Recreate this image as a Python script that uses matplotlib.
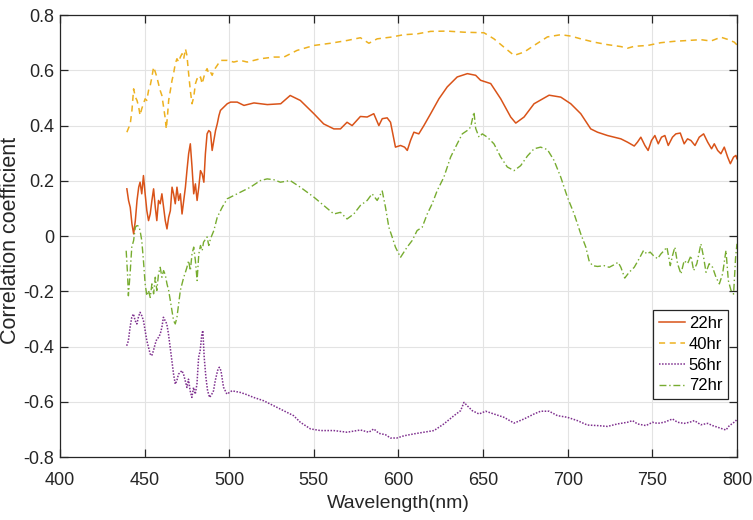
import matplotlib
matplotlib.use("Agg")
import matplotlib.pyplot as plt

plt.rcParams['font.family'] = ['Liberation Sans', 'DejaVu Sans']

# ---------------- data ----------------
wl_22 = [439.5, 440.5, 441.5, 442.5, 443.5, 444.5, 445.5, 446.5, 447.3, 448.3, 449.3, 450.3,
         451.3, 452.3, 453.3, 454.3, 455.3, 456.3, 457.2, 458.2, 459.2, 460.2, 461.2, 462.2,
         463.2, 464.2, 465.2, 466.2, 467.1, 468.1, 469.1, 470.1, 471.1, 472.1, 473.1, 474.1,
         475.0, 476.0, 477.0, 478.0, 479.0, 480.0, 481.0, 482.0, 483.0, 484.0, 485.0, 485.9,
         486.9, 487.9, 488.9, 489.9, 490.9, 491.9, 492.9, 493.9, 494.8, 496.8, 498.8, 500.8,
         504.7, 508.7, 514.6, 522.5, 530.4, 536, 542, 550, 555.8, 561.8, 565.7, 569.6,
         572.6, 577.5, 581.5, 585.4, 588.4, 590.4, 593.3, 595.3, 598.2, 601.2, 603.6, 605.2,
         607.1, 609.1, 612, 615, 619, 623.9, 628.8, 634.7, 640.7, 645.6, 648.5, 654.5,
         660.4, 666.3, 669.3, 674.2, 680.1, 689, 695.9, 701.8, 707.7, 713.6, 717.6, 723.5,
         727.4, 731.4, 735.3, 739.3, 741.2, 743.2, 745.6, 747.5, 749.5, 751.5, 753.5, 755.4,
         757.4, 759.4, 761.9, 763.9, 766.5, 768.8, 770.8, 772.8, 775.2, 777.7, 780.3, 782.7,
         785, 786.6, 788.6, 790.5, 792.5, 794.5, 796.1, 798, 799.4, 800]
val_22 = [0.171, 0.129, 0.104, 0.044, 0.008, 0.056, 0.129, 0.177, 0.195, 0.153, 0.219, 0.153,
          0.092, 0.056, 0.080, 0.129, 0.171, 0.104, 0.056, 0.129, 0.117, 0.153, 0.104, 0.056,
          0.026, 0.068, 0.092, 0.177, 0.153, 0.117, 0.177, 0.129, 0.153, 0.080, 0.129, 0.177,
          0.237, 0.298, 0.334, 0.250, 0.153, 0.189, 0.129, 0.177, 0.237, 0.225, 0.195, 0.298,
          0.370, 0.382, 0.376, 0.310, 0.346, 0.382, 0.406, 0.436, 0.455, 0.467, 0.479, 0.485,
          0.485, 0.473, 0.482, 0.476, 0.479, 0.509, 0.491, 0.443, 0.406, 0.388, 0.388, 0.412,
          0.400, 0.433, 0.431, 0.443, 0.400, 0.425, 0.428, 0.412, 0.322, 0.328, 0.322, 0.310,
          0.346, 0.376, 0.370, 0.400, 0.443, 0.497, 0.540, 0.576, 0.588, 0.582, 0.564, 0.552,
          0.497, 0.431, 0.409, 0.431, 0.479, 0.510, 0.503, 0.479, 0.443, 0.388, 0.376, 0.364,
          0.358, 0.352, 0.340, 0.326, 0.340, 0.358, 0.328, 0.310, 0.346, 0.364, 0.334, 0.358,
          0.364, 0.328, 0.358, 0.370, 0.373, 0.334, 0.352, 0.346, 0.328, 0.358, 0.370, 0.340,
          0.316, 0.334, 0.310, 0.298, 0.322, 0.286, 0.262, 0.286, 0.292, 0.280]

wl_40 = [439.5, 441.5, 442.5, 443.5, 444.5, 445.5, 446.5, 447.3, 448.3, 449.3, 450.3, 451.3,
         452.3, 453.3, 454.3, 455.3, 456.3, 457.2, 458.2, 459.2, 460.2, 461.2, 462.2, 462.8,
         463.6, 464.2, 465.2, 466.2, 467.1, 468.1, 469.1, 470.1, 471.1, 472.1, 473.1, 474.1,
         475.0, 476.0, 477.0, 478.0, 479.0, 480.0, 481.0, 482.0, 483.0, 484.0, 485.0, 485.9,
         486.9, 487.9, 488.9, 489.9, 490.9, 492.9, 494.8, 498.8, 502.7, 506.6, 510.6, 518.5,
         526.3, 532.3, 540, 550, 559.8, 569.6, 577.5, 582.5, 587.4, 595.3, 603.2, 611.1,
         619, 628.8, 638.7, 650.5, 656.4, 662.3, 668.3, 674.2, 680.1, 688, 695.9, 701.8,
         707.7, 715.6, 723.5, 731.4, 735.3, 739.3, 747.2, 755, 762.9, 770.8, 778.7, 784.6,
         790.5, 794.5, 798.4, 800]
val_40 = [0.376, 0.406, 0.455, 0.533, 0.503, 0.491, 0.467, 0.437, 0.461, 0.479, 0.497, 0.491,
          0.527, 0.545, 0.576, 0.612, 0.594, 0.576, 0.551, 0.527, 0.509, 0.467, 0.425, 0.388,
          0.443, 0.491, 0.527, 0.564, 0.588, 0.624, 0.642, 0.630, 0.648, 0.660, 0.642, 0.678,
          0.654, 0.588, 0.527, 0.479, 0.503, 0.551, 0.570, 0.564, 0.576, 0.551, 0.576, 0.594,
          0.606, 0.588, 0.594, 0.582, 0.600, 0.618, 0.636, 0.636, 0.630, 0.636, 0.630, 0.642,
          0.648, 0.648, 0.672, 0.690, 0.698, 0.708, 0.718, 0.698, 0.714, 0.720, 0.729, 0.732,
          0.741, 0.742, 0.738, 0.736, 0.714, 0.684, 0.654, 0.666, 0.690, 0.721, 0.729, 0.724,
          0.714, 0.702, 0.693, 0.686, 0.680, 0.687, 0.690, 0.700, 0.705, 0.708, 0.711, 0.706,
          0.720, 0.712, 0.702, 0.692]

wl_56 = [439.4, 440.4, 441.4, 442.4, 443.4, 444.4, 445.4, 446.3, 447.3, 448.3, 449.3, 450.3,
         451.3, 452.3, 453.3, 454.2, 455.2, 456.2, 457.2, 458.2, 459.2, 460.2, 461.1, 462.1,
         463.1, 464.1, 465.1, 466.1, 467.1, 468.1, 469.0, 470.0, 471.0, 472.0, 473.0, 474.0,
         475.0, 475.9, 476.9, 477.9, 478.9, 479.9, 480.9, 481.9, 482.8, 483.8, 484.4, 485.2,
         486.2, 487.2, 488.4, 489.7, 490.7, 491.7, 493.1, 494.1, 495.1, 496.6, 498.6, 501.6,
         506.5, 509.5, 514.4, 520.3, 526.2, 532.1, 538, 542, 548, 553.9, 561.8, 569.6,
         577.5, 582.5, 585.4, 588.4, 592.3, 595.3, 599, 603.2, 609.1, 615, 621, 626.8,
         632.8, 636.7, 638.7, 640.6, 643.6, 647.6, 651.5, 656.4, 662.3, 668.3, 674.2, 680.1,
         684, 689, 693.9, 699.8, 705.7, 711.6, 717.6, 723.5, 729.4, 735.3, 738.3, 741.2,
         746.2, 750.1, 753.1, 757, 761.9, 764.9, 768.8, 772, 774.8, 778.7, 782.7, 785.6,
         788.6, 791.5, 793.5, 795.5, 797.5, 799.4, 800]
val_56 = [-0.397, -0.379, -0.330, -0.294, -0.282, -0.306, -0.318, -0.294, -0.276, -0.288, -0.306, -0.342,
          -0.379, -0.403, -0.427, -0.433, -0.415, -0.391, -0.373, -0.367, -0.355, -0.330, -0.294, -0.306,
          -0.318, -0.355, -0.403, -0.451, -0.500, -0.536, -0.524, -0.500, -0.494, -0.487, -0.500, -0.524,
          -0.548, -0.518, -0.560, -0.584, -0.548, -0.572, -0.536, -0.439, -0.415, -0.355, -0.342, -0.439,
          -0.511, -0.560, -0.584, -0.572, -0.560, -0.524, -0.487, -0.475, -0.487, -0.547, -0.572, -0.560,
          -0.566, -0.572, -0.584, -0.596, -0.614, -0.632, -0.650, -0.674, -0.698, -0.704, -0.704, -0.710,
          -0.702, -0.710, -0.698, -0.714, -0.719, -0.731, -0.731, -0.723, -0.716, -0.710, -0.704, -0.680,
          -0.650, -0.632, -0.602, -0.614, -0.632, -0.644, -0.634, -0.644, -0.656, -0.677, -0.662, -0.644,
          -0.634, -0.634, -0.650, -0.656, -0.668, -0.684, -0.686, -0.689, -0.680, -0.674, -0.668, -0.680,
          -0.686, -0.674, -0.678, -0.674, -0.662, -0.674, -0.678, -0.674, -0.668, -0.683, -0.678, -0.686,
          -0.692, -0.698, -0.702, -0.686, -0.678, -0.668, -0.662]

wl_72 = [439.1, 439.9, 440.4, 441.4, 442.4, 443.5, 444.5, 445.5, 446.5, 447.3, 448.3, 449.3,
         450.3, 451.3, 452.3, 453.3, 454.3, 455.3, 456.3, 457.2, 458.2, 459.2, 460.2, 461.2,
         462.2, 463.2, 464.2, 465.2, 466.2, 467.1, 468.1, 469.1, 470.1, 471.1, 472.1, 473.1,
         474.1, 475.0, 476.0, 477.0, 478.0, 479.0, 480.0, 481.0, 482.0, 483.0, 484.0, 484.8,
         486.9, 487.9, 488.9, 490.9, 492.9, 495.8, 498.8, 502.7, 506.6, 512.5, 518.4, 522.4,
         526.3, 530.2, 536, 542, 550, 555.8, 561.8, 565.7, 569.6, 573.6, 577.5, 581.5,
         584.4, 587.4, 590.4, 592.3, 594.3, 596.3, 598.2, 601.2, 603.2, 605.1, 608.1, 611,
         614, 617, 619.9, 622.9, 626.8, 630.8, 634.7, 637.7, 640.6, 642.6, 644.6, 645.6,
         647.6, 649.5, 652.5, 656.4, 660.4, 664.3, 668.3, 672.2, 676.2, 680.1, 684, 688,
         691.9, 695.9, 699.8, 703.8, 707.7, 710.7, 712.6, 714.6, 717.6, 721.5, 724.5, 727,
         729.8, 731.4, 733.7, 736.3, 739.3, 742.2, 744.8, 746.8, 748.7, 750.7, 753.1, 755,
         757, 758.6, 760.6, 761.9, 763.3, 764.9, 766.9, 768.8, 770.8, 772.8, 774.4, 776.3,
         778.7, 780.3, 781.7, 783.6, 785.6, 787.6, 789.6, 791.5, 793.5, 794.9, 796.5, 798,
         799.2, 800]
val_72 = [-0.053, -0.137, -0.216, -0.137, -0.040, -0.016, 0.032, 0.038, 0.036, 0.020, -0.016, -0.089,
          -0.173, -0.216, -0.197, -0.222, -0.173, -0.209, -0.149, -0.197, -0.137, -0.113, -0.149, -0.125,
          -0.140, -0.173, -0.197, -0.234, -0.270, -0.306, -0.318, -0.294, -0.246, -0.197, -0.173, -0.149,
          -0.131, -0.113, -0.089, -0.125, -0.065, -0.040, -0.089, -0.161, -0.065, -0.034, -0.053, -0.022,
          -0.003, -0.034, -0.010, 0.020, 0.068, 0.104, 0.135, 0.147, 0.159, 0.177, 0.201, 0.207,
          0.204, 0.195, 0.201, 0.177, 0.141, 0.111, 0.080, 0.086, 0.062, 0.080, 0.111, 0.129,
          0.153, 0.129, 0.163, 0.105, 0.032, -0.004, -0.040, -0.077, -0.058, -0.040, -0.016, 0.020,
          0.032, 0.080, 0.117, 0.165, 0.213, 0.286, 0.334, 0.370, 0.382, 0.394, 0.449, 0.390,
          0.358, 0.370, 0.358, 0.334, 0.286, 0.250, 0.237, 0.255, 0.290, 0.316, 0.322, 0.313,
          0.274, 0.213, 0.141, 0.080, 0.008, -0.040, -0.089, -0.107, -0.110, -0.107, -0.113, -0.105,
          -0.095, -0.113, -0.152, -0.131, -0.113, -0.082, -0.052, -0.065, -0.058, -0.071, -0.082, -0.065,
          -0.052, -0.040, -0.107, -0.071, -0.040, -0.100, -0.137, -0.089, -0.100, -0.071, -0.125, -0.100,
          -0.028, -0.077, -0.131, -0.100, -0.113, -0.149, -0.173, -0.137, -0.052, -0.161, -0.197, -0.210,
          -0.077, -0.028]

x_ticks = [400, 450, 500, 550, 600, 650, 700, 750, 800]
y_ticks = [-0.8, -0.6, -0.4, -0.2, 0, 0.2, 0.4, 0.6, 0.8]
y_tick_labels = ['-0.8', '-0.6', '-0.4', '-0.2', '0', '0.2', '0.4', '0.6', '0.8']
series_labels = ['22hr', '40hr', '56hr', '72hr']

# ---------------- figure ----------------
fig = plt.figure(figsize=(7.53, 5.20), dpi=100)
ax = fig.add_axes([0.0797, 0.121, 0.8990, 0.850])

ax.plot(wl_22, val_22, color='#D95319', lw=1.1, ls='-', label=series_labels[0])
ax.plot(wl_40, val_40, color='#EDB120', lw=1.1, ls=(0, (4, 3)), label=series_labels[1])
ax.plot(wl_56, val_56, color='#7E2F8E', lw=1.1, ls=(0, (1, 1)), label=series_labels[2])
ax.plot(wl_72, val_72, color='#77AC30', lw=1.0, ls=(0, (5, 2, 1, 2)), label=series_labels[3])

ax.set_xlim(400, 800)
ax.set_ylim(-0.8, 0.8)
ax.set_xticks(x_ticks)
ax.set_yticks(y_ticks)
ax.set_yticklabels(y_tick_labels)
ax.grid(True, color='#e3e3e3', lw=0.8)
ax.set_axisbelow(True)

ax.tick_params(direction='in', length=6, width=0.9, colors='#262626',
               labelsize=13, top=True, right=True)
ax.tick_params(axis='x', pad=11)
ax.tick_params(axis='y', pad=4)
for sp in ax.spines.values():
    sp.set_color('#262626')
    sp.set_linewidth(0.9)

ax.set_xlabel('Wavelength(nm)', fontsize=14, color='#262626', labelpad=4)
ax.set_ylabel('Correlation coefficient', fontsize=15.5, color='#262626')
ax.yaxis.set_label_coords(-0.057, 0.49)

leg = ax.legend(loc='lower right', bbox_to_anchor=(0.987, 0.131), borderaxespad=0,
                fontsize=12, frameon=True, fancybox=False, framealpha=1,
                handlelength=1.6, handletextpad=0.2, labelspacing=0.35,
                borderpad=0.35)
leg.get_frame().set_edgecolor('#262626')
leg.get_frame().set_linewidth(0.9)

fig.savefig('out.png', dpi=100)
